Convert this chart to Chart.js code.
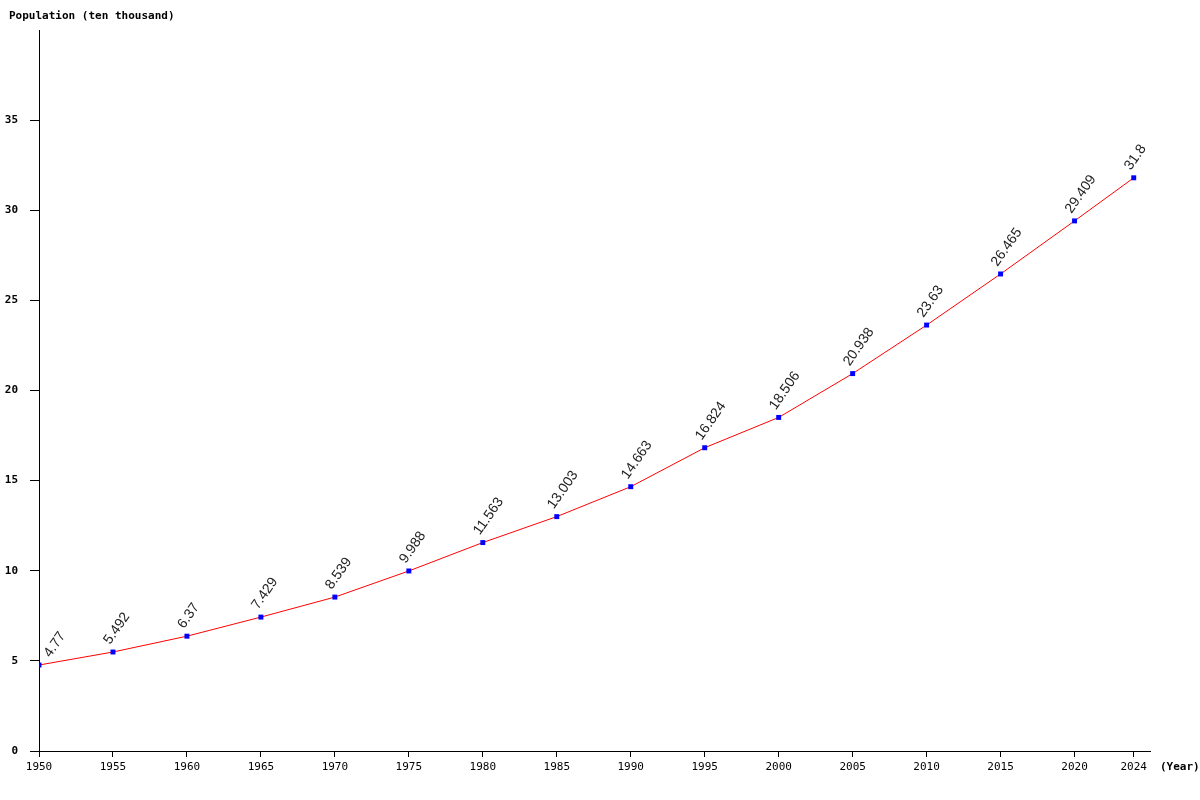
<!DOCTYPE html>
<html>
<head>
<meta charset="utf-8">
<script src="https://cdn.jsdelivr.net/npm/chart.js@4/dist/chart.umd.min.js"></script>
<style>
  html, body { margin: 0; padding: 0; background: #fff; }
  #wrap { width: 1200px; height: 800px; }
</style>
</head>
<body>
<div id="wrap"><canvas id="popChart" width="1200" height="800"></canvas></div>
<script>
const years = [1950, 1955, 1960, 1965, 1970, 1975, 1980, 1985, 1990, 1995, 2000, 2005, 2010, 2015, 2020, 2024];
const population = [4.77, 5.492, 6.37, 7.429, 8.539, 9.988, 11.563, 13.003, 14.663, 16.824, 18.506, 20.938, 23.63, 26.465, 29.409, 31.8];
const yTicks = [0, 5, 10, 15, 20, 25, 30, 35];

const yTitle = 'Population (ten thousand)';
const xTitle = '(Year)';

const labelAngle = 55 * Math.PI / 180;

// draws the rotated value above each point, and the two axis titles
const labelPlugin = {
    id: 'valueLabels',
    afterDatasetsDraw(chart) {
        const ctx = chart.ctx;
        const area = chart.chartArea;
        const meta = chart.getDatasetMeta(0);
        ctx.save();
        ctx.fillStyle = '#222';
        ctx.font = '14px "Liberation Sans", Arial, sans-serif';
        ctx.textAlign = 'left';
        ctx.textBaseline = 'alphabetic';
        meta.data.forEach((pt, i) => {
            let ox = pt.x - 3;
            const oy = pt.y - 7;
            // keep the label inside the plot on the left edge
            const leftMost = ox - Math.sin(labelAngle) * 10;
            if (leftMost < area.left + 3) ox += area.left + 3 - leftMost;
            ctx.save();
            ctx.translate(ox, oy);
            ctx.rotate(-labelAngle);
            ctx.fillText(String(population[i]), 0, 0);
            ctx.restore();
        });
        ctx.restore();

        ctx.save();
        ctx.fillStyle = '#000';
        ctx.font = 'bold 11px "DejaVu Sans Mono", monospace';
        ctx.textBaseline = 'middle';
        ctx.textAlign = 'left';
        ctx.fillText(yTitle, 9, 16);
        ctx.fillText(xTitle, area.right + 10, area.bottom + 16);
        ctx.restore();
    }
};

const ctx = document.getElementById('popChart').getContext('2d');

const popChart = new Chart(ctx, {
    type: 'line',
    data: {
        datasets: [
            {
                data: years.map((y, i) => ({ x: y, y: population[i] })),
                borderColor: '#ff0000',
                borderWidth: 1,
                backgroundColor: '#0000ff',
                pointBackgroundColor: '#0000ff',
                pointBorderColor: '#0000ff',
                pointStyle: 'rect',
                pointRadius: 3.5,
                pointBorderWidth: 0,
                tension: 0,
                fill: false
            }
        ]
    },
    options: {
        responsive: false,
        animation: false,
        events: [],
        layout: { padding: { top: 30, right: 50, left: 0, bottom: 0 } },
        plugins: {
            legend: { display: false },
            tooltip: { enabled: false }
        },
        scales: {
            x: {
                type: 'linear',
                min: 1950,
                max: 2025.1,
                afterBuildTicks: scale => { scale.ticks = years.map(v => ({ value: v })); },
                afterFit: scale => { scale.height = 49; },
                ticks: {
                    color: '#000',
                    font: { family: '"DejaVu Sans Mono", monospace', size: 11 },
                    padding: 4,
                    maxRotation: 0,
                    autoSkip: false,
                    callback: v => String(v)
                },
                grid: { drawOnChartArea: false, drawTicks: true, tickLength: 6, color: '#000' },
                border: { color: '#000', width: 1 }
            },
            y: {
                min: 0,
                max: 40,
                afterBuildTicks: scale => { scale.ticks = yTicks.map(v => ({ value: v })); },
                afterFit: scale => { scale.width = 39; },
                ticks: {
                    color: '#000',
                    font: { family: '"DejaVu Sans Mono", monospace', size: 11, weight: 'bold' },
                    padding: 12,
                    autoSkip: false
                },
                grid: { drawOnChartArea: false, drawTicks: true, tickLength: 9, color: '#000' },
                border: { color: '#000', width: 1 }
            }
        }
    },
    plugins: [labelPlugin]
});
</script>
</body>
</html>
